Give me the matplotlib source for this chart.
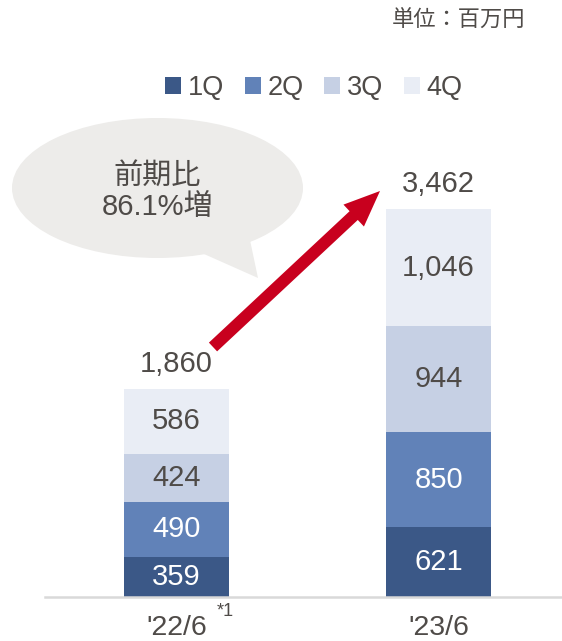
import matplotlib
matplotlib.use("Agg")
import matplotlib.pyplot as plt
from matplotlib.patches import Ellipse, Polygon, FancyArrow
import numpy as np

plt.rcParams['font.family'] = ['Liberation Sans', 'Noto Sans CJK JP']

# data
periods = ["'22/6", "'23/6"]
quarters = ["1Q", "2Q", "3Q", "4Q"]
q1 = [359, 621]
q2 = [490, 850]
q3 = [424, 944]
q4 = [586, 1046]
totals = [1860, 3462]
growth_text = "前期比\n86.1%増"
unit_text = "単位：百万円"

colors = ["#3B5887", "#6182B8", "#C6D0E4", "#E9EDF5"]
text_color = "#4F4B48"
label_colors = ["white", "white", text_color, text_color]

W, H = 562, 641
fig = plt.figure(figsize=(W / 100, H / 100), dpi=100)

# main axes: baseline at y=597px, from x=45px to right edge
ax = fig.add_axes([45 / W, (H - 597) / H, (W - 45) / W, 597 / H])
ax.set_xlim(-0.502, 1.471)
ax.set_ylim(0, 5327)
ax.axis("off")
ax.axhline(0, color="#D9D9D9", lw=1.8, clip_on=False)

x = np.arange(len(periods))
bottom = np.zeros(len(periods))
series = [q1, q2, q3, q4]
bars = []
for vals, c, lc, name in zip(series, colors, label_colors, quarters):
    b = ax.bar(x, vals, 0.40, bottom=bottom, color=c, label=name)
    bars.append(b)
    for xi, v, bt in zip(x, vals, bottom):
        ax.text(xi, bt + v / 2, f"{v:,}", ha="center", va="center",
                fontsize=21, color=lc)
    bottom += vals

for xi, t in zip(x, totals):
    ax.text(xi, t + 220, f"{t:,}", ha="center", va="center",
            fontsize=21, color=text_color)

for xi, p in zip(x, periods):
    ax.text(xi, -280, p, ha="center", va="center", fontsize=20.5,
            color=text_color, clip_on=False)
ax.text(x[0] + 0.155, -125, "*1", ha="left", va="center", fontsize=13,
        color=text_color, clip_on=False)

# overlay in pixel coordinates for callouts
ov = fig.add_axes([0, 0, 1, 1], facecolor="none")
ov.set_xlim(0, W)
ov.set_ylim(H, 0)
ov.axis("off")

bubble_c = "#EDECEA"
ov.add_patch(Ellipse((157.5, 188), 291, 140, color=bubble_c, lw=0))
ov.add_patch(Polygon([(195, 250), (250, 240), (258, 278)], closed=True,
                     color=bubble_c, lw=0))
ov.text(157.5, 192, growth_text, ha="center", va="center", fontsize=21,
        color=text_color, linespacing=1.1)

ov.add_patch(FancyArrow(213, 347, 380 - 213, 191 - 347, width=12,
                        head_width=30, head_length=36,
                        length_includes_head=True, color="#C8001E", lw=0))

ov.text(525, 21, unit_text, ha="right", va="center", fontsize=16,
        color=text_color)

fig.legend(handles=bars, labels=quarters, loc="center",
           bbox_to_anchor=(314 / W, 1 - 88 / H), ncol=4, frameon=False,
           fontsize=19.5, handlelength=0.6, handleheight=0.6,
           handletextpad=0.25, columnspacing=0.75, labelcolor=text_color,
           borderpad=0)

fig.savefig("out.png", dpi=100)
